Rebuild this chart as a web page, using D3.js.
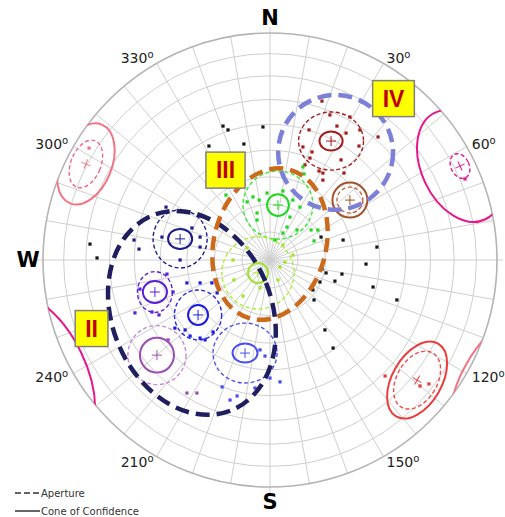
<!DOCTYPE html>
<html>
<head>
<meta charset="utf-8">
<script src="https://cdn.jsdelivr.net/npm/d3@7"></script>
<style>
  html, body { margin: 0; padding: 0; background: #fff; }
  svg { display: block; }
</style>
</head>
<body>
<svg id="net" width="505" height="517"></svg>
<script>
// Pole plot on an equal-area net. Positions are projected net coordinates:
// x to the east, y to the north, in percent of the primitive radius.

const cardinals = ["N", "E", "S", "W"];
const cardinalAz = [0, 90, 180, 270];
const azimuthTicks = [30, 60, 120, 150, 210, 240, 300, 330];
const dipCircles = [10, 20, 30, 40, 50, 60, 70, 80];

// Joint sets (thick dashed outlines) and their labels
const setEllipses = [
  { set: "II",  x: -34.4, y: -23.3, rx: 35.2, ry: 46.3, tilt: -22 },
  { set: "III", x: 0.0,   y: 7.0,   rx: 24.7, ry: 33.9, tilt: 15 },
  { set: "IV",  x: 28.9,  y: 47.4,  rx: 25.3, ry: 25.3, tilt: 0 }
];
const setLabels = [
  { set: "II",  x: -78.6, y: -30.2 },
  { set: "III", x: -19.6, y: 39.6 },
  { set: "IV",  x: 54.4,  y: 71.1 }
];

// Cluster mean poles with cone of confidence and aperture (semi-axes, tilt in degrees clockwise)
const clusters = [
  { id: "IVa",  x: 26.9,  y: 52.4,  cone: [5.1, 4.2],   aperture: [14.3, 12.8], tilt: 0 },
  { id: "IVb",  x: 35.2,  y: 26.4,  cone: [7.7, 7.7],   aperture: [5.7, 5.7],   tilt: 0 },
  { id: "IIIa", x: 3.5,   y: 24.2,  cone: [4.8, 4.8],   aperture: [15.4, 15.0], tilt: 0 },
  { id: "IIIb", x: -5.3,  y: -5.7,  cone: [4.4, 4.4],   aperture: [15.9, 15.9], tilt: 0 },
  { id: "IIa",  x: -39.6, y: 9.3,   cone: [5.3, 4.4],   aperture: [11.9, 12.8], tilt: 0 },
  { id: "IIb",  x: -50.7, y: -14.1, cone: [5.3, 4.8],   aperture: [7.7, 9.0],   tilt: 0 },
  { id: "IIc",  x: -31.7, y: -24.2, cone: [4.4, 4.4],   aperture: [10.4, 11.0], tilt: 0 },
  { id: "IId",  x: -11.0, y: -41.0, cone: [5.5, 4.2],   aperture: [14.1, 13.2], tilt: 0 },
  { id: "IIe",  x: -49.8, y: -41.9, cone: [7.5, 7.7],   aperture: [12.8, 13.0], tilt: 0 },
  { id: "NW",   x: -81.1, y: 42.3,  cone: [11.4, 18.7], aperture: [6.6, 11.0],  tilt: 22 },
  { id: "NE",   x: 83.7,  y: 41.4,  cone: [17.0, 26.0], aperture: [4.0, 5.7],   tilt: -25 },
  { id: "SE",   x: 64.8,  y: -52.9, cone: [10.9, 18.5], aperture: [8.9, 13.8],  tilt: 30 }
];

// Parts of cones that cross the primitive and reappear on the opposite side
const wrapArcs = [
  { id: "NE", x: -103.1, y: -50.2, rx: 22.0, ry: 38.8, tilt: -26 },
  { id: "NW", x: 93.0,   y: -50.4, rx: 7.9,  ry: 23.3, tilt: 28.5 }
];

// Individual poles: [cluster, x, y]; "-" marks poles outside any cluster
const poles = [
  ["-", -20.7, 59.0], ["-", -18.5, 57.3], ["-", -26.9, 50.2], ["-", -11.5, 51.1], ["-", -3.1, 58.6],
  ["-", -76.2, 0.9], ["-", -79.3, 7.0], ["-", 32.2, 8.8], ["-", 47.1, 5.7], ["-", 42.3, -1.8],
  ["-", 22.9, -4.0], ["-", 24.7, -5.7], ["-", 31.7, -6.2], ["-", 22.0, -9.7], ["-", 28.6, -9.3],
  ["-", 45.4, -11.9], ["-", 18.9, -13.2], ["-", 19.4, -17.6], ["-", 55.9, -17.6], ["-", 24.2, -30.8],
  ["-", 27.8, -38.8], ["-", 22.5, 10.1],
  ["IVa", 22.9, 70.0], ["IVa", 26.4, 63.9], ["IVa", 35.2, 63.0], ["IVa", 29.5, 59.0], ["IVa", 33.5, 55.9],
  ["IVa", 39.6, 57.3], ["IVa", 17.2, 57.3], ["IVa", 14.5, 49.8], ["IVa", 18.5, 47.6], ["IVa", 17.6, 44.9],
  ["IVa", 15.4, 41.9], ["IVa", 21.6, 39.2], ["IVa", 23.3, 38.3], ["IVa", 23.3, 35.2], ["IVa", 31.3, 44.1],
  ["IVa", 32.6, 38.3], ["IVa", 47.6, 54.2], ["IVa", 39.2, 50.2],
  ["IVb", 35.2, 22.9],
  ["IIIa", -19.4, 28.6], ["IIIa", -10.1, 25.6], ["IIIa", -7.5, 27.8], ["IIIa", -4.8, 26.4], ["IIIa", -5.7, 20.7],
  ["IIIa", -1.3, 29.5], ["IIIa", 5.7, 30.4], ["IIIa", 10.1, 26.4], ["IIIa", 13.2, 23.3], ["IIIa", 8.8, 18.9],
  ["IIIa", 14.5, 41.0], ["IIIa", 15.0, 37.9], ["IIIa", 11.9, 13.2], ["IIIa", 18.1, 13.2], ["IIIa", 19.4, 8.4],
  ["IIIa", 21.1, 13.2], ["IIIa", 5.7, 11.9], ["IIIa", -5.7, 17.6], ["IIIa", 2.2, 8.8], ["IIIa", 7.5, 14.5],
  ["IIIb", -16.3, 0.0], ["IIIb", -15.9, -8.8], ["IIIb", -10.1, 5.3], ["IIIb", 5.7, 6.6], ["IIIb", 6.6, -0.9],
  ["IIIb", 10.1, 2.2], ["IIIb", 4.4, -3.1], ["IIIb", 3.5, -8.8], ["IIIb", -4.4, -12.3], ["IIIb", -11.9, -15.9],
  ["IIa", -45.8, 23.3], ["IIa", -59.9, 8.8], ["IIa", -57.7, 4.8], ["IIa", -47.6, 10.1], ["IIa", -39.6, 0.0],
  ["IIa", -30.8, 10.1], ["IIa", -30.8, 5.7], ["IIa", -34.4, 14.1],
  ["IIb", -57.3, -12.8], ["IIb", -42.7, -14.1], ["IIb", -52.0, -22.9], ["IIb", -48.9, -24.2], ["IIb", -59.5, -23.3],
  ["IIb", -45.4, -6.2],
  ["IIc", -37.4, -30.8], ["IIc", -35.2, -33.5], ["IIc", -30.8, -34.4], ["IIc", -25.1, -31.7], ["IIc", -28.6, -35.2],
  ["IIc", -41.9, -30.0], ["IIc", -30.8, -10.1], ["IIc", -25.6, -10.1], ["IIc", -36.6, -10.1], ["IIc", -23.3, -14.5],
  ["IId", -4.4, -39.6], ["IId", -2.2, -42.3], ["IId", 4.4, -53.7], ["IId", 0.0, -52.0], ["IId", -21.1, -55.9],
  ["IId", -17.6, -61.7], ["IId", -14.5, -59.9], ["IId", -6.6, -56.4],
  ["IIe", -44.9, -35.2], ["IIe", -36.6, -58.6], ["IIe", -32.2, -58.6],
  ["NW", -79.7, 49.3], ["NE", 85.9, 35.7],
  ["SE", 50.7, -51.1], ["SE", 66.1, -55.5], ["SE", 70.0, -54.6]
];

// Styling
const setColor = { II: "#1f1f60", III: "#cc6a1c", IV: "#7c80d8" };
const coneColor = {
  IVa: "#a41c1c", IVb: "#a3532c", IIIa: "#1ed81e", IIIb: "#9fe32c", IIa: "#1d1d8a",
  IIb: "#5a1fd6", IIc: "#1c1ce6", IId: "#4a4ef0", IIe: "#9b4db5", NW: "#f27484",
  NE: "#e8168a", SE: "#ec3b3b", "-": "#151515"
};
const apertureColor = {
  IVa: "#a41c1c", IVb: "#b8683e", IIIa: "#35e835", IIIb: "#acee38", IIa: "#1d1d8a",
  IIb: "#5a1fd6", IIc: "#2424ea", IId: "#5054f2", IIe: "#c88ad8", NW: "#f2668a",
  NE: "#e8168a", SE: "#f04b4b"
};

const cx = 270, cy = 260, R = 227;
const x = d3.scaleLinear().domain([-100, 100]).range([cx - R, cx + R]);
const y = d3.scaleLinear().domain([-100, 100]).range([cy + R, cy - R]);
const len = v => x(v) - x(0);
// equal-area radius (percent of primitive) for an angle from the centre
const eaRadius = d => 100 * Math.SQRT2 * Math.sin((d / 2) * Math.PI / 180);
const polar = (az, r) => [cx + r * Math.sin(az * Math.PI / 180), cy - r * Math.cos(az * Math.PI / 180)];

const svg = d3.select("#net");
svg.append("rect").attr("width", 505).attr("height", 517).attr("fill", "#fff");

svg.append("defs").append("clipPath").attr("id", "prim")
  .append("circle").attr("cx", cx).attr("cy", cy).attr("r", R);

// Grid: dip circles and azimuth spokes
const grid = svg.append("g").attr("fill", "none").attr("stroke", "#cfcfcf").attr("stroke-width", 1);
grid.selectAll("circle.dip").data(dipCircles).join("circle")
  .attr("cx", cx).attr("cy", cy).attr("r", d => len(eaRadius(d)));
grid.selectAll("line.spoke").data(d3.range(0, 360, 10)).join("line")
  .attr("x1", cx).attr("y1", cy)
  .attr("x2", d => polar(d, cardinalAz.includes(d) ? R + 6 : R)[0])
  .attr("y2", d => polar(d, cardinalAz.includes(d) ? R + 6 : R)[1]);
svg.append("circle").attr("cx", cx).attr("cy", cy).attr("r", R)
  .attr("fill", "none").attr("stroke", "#b4b4b4").attr("stroke-width", 1.6);

// Clusters
const cg = svg.append("g").attr("clip-path", "url(#prim)").attr("fill", "none");
const ellipse = (g, d, rx, ry, tilt) => g.append("ellipse")
  .attr("cx", x(d.x)).attr("cy", y(d.y)).attr("rx", len(rx)).attr("ry", len(ry))
  .attr("transform", `rotate(${tilt},${x(d.x)},${y(d.y)})`);

clusters.forEach(d => {
  ellipse(cg, d, d.aperture[0], d.aperture[1], d.tilt)
    .attr("stroke", apertureColor[d.id]).attr("stroke-width", 1.4).attr("stroke-dasharray", "4,2.5");
  ellipse(cg, d, d.cone[0], d.cone[1], d.tilt)
    .attr("stroke", coneColor[d.id]).attr("stroke-width", 2);
  const px = x(d.x), py = y(d.y);
  cg.append("path")
    .attr("d", `M${px - 5},${py}H${px + 5}M${px},${py - 5}V${py + 5}`)
    .attr("transform", `rotate(${d.tilt},${px},${py})`)
    .attr("stroke", coneColor[d.id]).attr("stroke-width", 1);
});
wrapArcs.forEach(d => {
  ellipse(cg, d, d.rx, d.ry, d.tilt).attr("stroke", coneColor[d.id]).attr("stroke-width", 2);
});

// Poles
svg.append("g").selectAll("rect").data(poles).join("rect")
  .attr("x", d => x(d[1]) - 1.6).attr("y", d => y(d[2]) - 1.6)
  .attr("width", 3.2).attr("height", 3.2)
  .attr("fill", d => coneColor[d[0]]);

// Set outlines
svg.append("g").selectAll("ellipse").data(setEllipses).join("ellipse")
  .attr("cx", d => x(d.x)).attr("cy", d => y(d.y))
  .attr("rx", d => len(d.rx)).attr("ry", d => len(d.ry))
  .attr("transform", d => `rotate(${d.tilt},${x(d.x)},${y(d.y)})`)
  .attr("fill", "none").attr("stroke", d => setColor[d.set])
  .attr("stroke-width", 4.5).attr("stroke-dasharray", "14,7");

// Set labels
const lab = svg.append("g").selectAll("g").data(setLabels).join("g")
  .attr("transform", d => `translate(${x(d.x)},${y(d.y)})`);
lab.each(function (d) {
  const g = d3.select(this);
  const t = g.append("text").text(d.set)
    .attr("text-anchor", "middle").attr("dominant-baseline", "central")
    .attr("font-family", "Liberation Sans, Arial, sans-serif").attr("font-weight", "bold")
    .attr("font-size", 23).attr("fill", "#c00000");
  const w = t.node().getComputedTextLength() + 20;
  g.insert("rect", "text").attr("x", -w / 2).attr("y", -18).attr("width", w).attr("height", 36)
    .attr("fill", "#ffff00").attr("stroke", "#808080").attr("stroke-width", 1.5);
});

// Azimuth labels
const az = svg.append("g").attr("font-family", "DejaVu Sans, sans-serif").attr("fill", "#222");
azimuthTicks.forEach(a => {
  const [px, py] = polar(a, R + 6);
  const t = az.append("text").attr("x", px).attr("y", py)
    .attr("text-anchor", a < 180 ? "start" : "end").attr("dominant-baseline", "central")
    .attr("font-size", 14);
  t.append("tspan").text(a);
  t.append("tspan").text("o").attr("font-size", 10).attr("dy", -4);
});

// Cardinal labels
svg.append("g").selectAll("text").data(cardinals).join("text")
  .attr("x", (d, i) => polar(cardinalAz[i], 242)[0])
  .attr("y", (d, i) => polar(cardinalAz[i], 242)[1])
  .attr("text-anchor", "middle").attr("dominant-baseline", "central")
  .attr("font-family", "DejaVu Sans, sans-serif").attr("font-weight", "bold")
  .attr("font-size", 21).attr("fill", "#000").text(d => d);

// Legend
const lg = svg.append("g").attr("font-family", "DejaVu Sans, sans-serif").attr("font-size", 10).attr("fill", "#333");
lg.append("line").attr("x1", 15).attr("x2", 40).attr("y1", 493).attr("y2", 493)
  .attr("stroke", "#333").attr("stroke-width", 1.5).attr("stroke-dasharray", "6,3");
lg.append("text").attr("x", 41).attr("y", 493).attr("dominant-baseline", "central").text("Aperture");
lg.append("line").attr("x1", 15).attr("x2", 40).attr("y1", 511).attr("y2", 511)
  .attr("stroke", "#333").attr("stroke-width", 1.5);
lg.append("text").attr("x", 41).attr("y", 511).attr("dominant-baseline", "central").text("Cone of Confidence");
</script>
</body>
</html>
